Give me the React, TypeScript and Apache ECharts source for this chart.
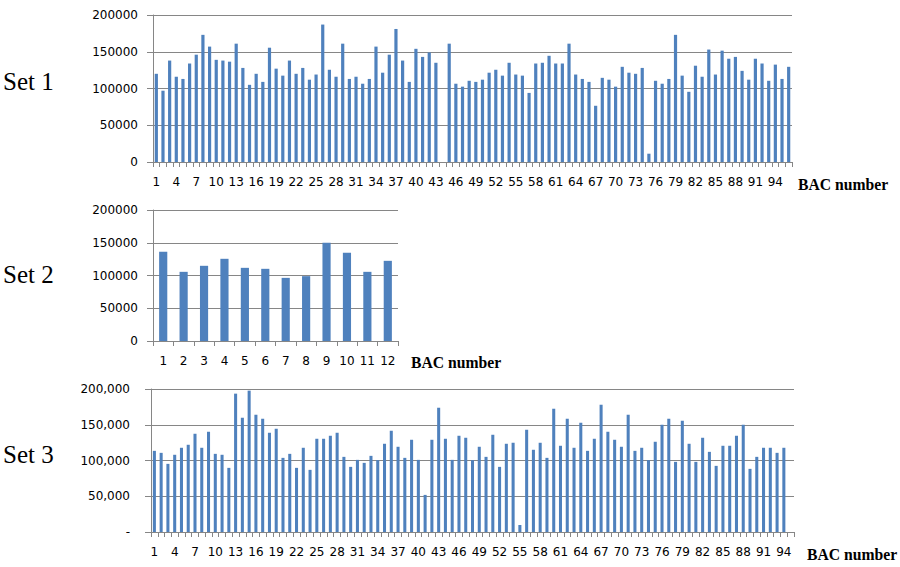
import React, { useEffect, useRef } from "react";
import * as echarts from "echarts";

const set1Values = [
  120000, 97000, 138000, 116000, 113000, 134000, 146000, 173000, 157000, 139000,
  138000, 136500, 161000, 128000, 105000, 120000, 109000, 155500, 127000, 117500,
  138000, 120000, 128000, 112000, 119000, 187000, 125500, 116000, 161000, 113000,
  116000, 106500, 113000, 157000, 121500, 146000, 181000, 138000, 109000, 154000,
  143000, 149000, 135000, 0, 161000, 106500, 102500, 110500, 109000, 112000,
  121500, 125500, 117500, 135000, 119000, 117500, 94000, 134000, 135000, 144500,
  134000, 134000, 161000, 119000, 113000, 109000, 76500, 114500, 112000, 102500,
  129500, 121500, 120000, 128000, 11300, 110500, 106500, 113000, 173000, 117500,
  95500, 131000, 116000, 153000, 119000, 151500, 140500, 143000, 124000, 112000,
  140500, 134000, 110500, 132500, 113000, 129500,
];

const set2Values = [136200, 105600, 114800, 125500, 111700, 110200, 96400, 99000, 150000, 134700, 105600, 122400];

const set3Values: (number | null)[] = [
  113500, 110700, 95300, 108000, 117800, 122000, 137400, 117800, 140200, 109300,
  108000, 89700, 193500, 159800, 197700, 164000, 158400, 138800, 144400, 103700,
  109300, 89700, 117800, 86900, 130400, 130400, 134600, 138800, 105100, 91100,
  100900, 96700, 106500, 100500, 123400, 141600, 119200, 103700, 129000, 100900,
  51900, 129000, 173800, 130400, 100900, 134600, 131800, 100500, 119200, 105100,
  136000, 91100, 123400, 124800, 9800, 143000, 115000, 124800, 103700, 172400,
  120600, 158400, 117800, 152800, 113500, 130400, 178000, 140200, 129000, 119200,
  164000, 113500, 117800, 100500, 126200, 150000, 158400, 98100, 155600, 123400,
  98100, 131800, 112100, 92500, 120600, 120600, 134600, 150000, 88300, 105100,
  117800, 117800, 110700, 117800, null,
];

const set1Categories = set1Values.map((_, i) => String(i + 1));
const set2Categories = set2Values.map((_, i) => String(i + 1));
const set3Categories = set3Values.map((_, i) => String(i + 1));

const setLabels = ["Set 1", "Set 2", "Set 3"];
const xAxisTitle = "BAC number";

const BAR = "#4F81BD";
const GRIDLINE = "#868686";
const LABEL_FONT = "DejaVu Sans";

export default function App() {
  const ref = useRef<HTMLDivElement>(null);

  useEffect(() => {
    if (!ref.current) return;
    const chart = echarts.init(ref.current, undefined, { renderer: "svg" });

    const xAxisBase = (gridIndex: number, data: string[], interval: number) => ({
      type: "category" as const,
      gridIndex,
      data,
      boundaryGap: true,
      axisLine: { show: true, lineStyle: { color: GRIDLINE, width: 1 } },
      axisTick: { show: true, interval: 0, length: 5, lineStyle: { color: GRIDLINE } },
      axisLabel: {
        interval,
        margin: 14,
        color: "#000",
        fontFamily: LABEL_FONT,
        fontSize: 12,
      },
    });

    const yAxisBase = (gridIndex: number, formatter: (v: number) => string, margin: number) => ({
      type: "value" as const,
      gridIndex,
      min: 0,
      max: 200000,
      interval: 50000,
      axisLine: { show: true, lineStyle: { color: GRIDLINE, width: 1 } },
      axisTick: { show: true, length: 6, lineStyle: { color: GRIDLINE } },
      splitLine: { show: true, lineStyle: { color: GRIDLINE, width: 1 } },
      axisLabel: {
        margin,
        color: "#000",
        fontFamily: LABEL_FONT,
        fontSize: 12,
        formatter,
      },
    });

    const plainFmt = (v: number) => String(v);
    const commaFmt = (v: number) => (v === 0 ? "-" : v.toLocaleString("en-US"));

    const setText = (text: string, y: number) => ({
      type: "text" as const,
      left: 3,
      top: y,
      style: { text, fontFamily: "Liberation Serif", fontSize: 25, fill: "#000" },
    });
    const titleText = (x: number, y: number) => ({
      type: "text" as const,
      left: x,
      top: y,
      style: { text: xAxisTitle, fontFamily: "Liberation Serif", fontSize: 15.7, fontWeight: "bold", fill: "#000" },
    });

    chart.setOption({
      animation: false,
      backgroundColor: "#fff",
      grid: [
        { left: 153, top: 15, width: 639, height: 147 },
        { left: 153, top: 210, width: 245, height: 131 },
        { left: 151, top: 389, width: 643, height: 143 },
      ],
      xAxis: [
        xAxisBase(0, set1Categories, 2),
        xAxisBase(1, set2Categories, 0),
        xAxisBase(2, set3Categories, 2),
      ],
      yAxis: [yAxisBase(0, plainFmt, 15), yAxisBase(1, plainFmt, 15), yAxisBase(2, commaFmt, 21)],
      series: [
        { type: "bar", xAxisIndex: 0, yAxisIndex: 0, data: set1Values, barWidth: "48%", itemStyle: { color: BAR } },
        { type: "bar", xAxisIndex: 1, yAxisIndex: 1, data: set2Values, barWidth: "40%", itemStyle: { color: BAR } },
        { type: "bar", xAxisIndex: 2, yAxisIndex: 2, data: set3Values, barWidth: "45%", itemStyle: { color: BAR } },
      ],
      graphic: [
        setText(setLabels[0], 69),
        setText(setLabels[1], 262),
        setText(setLabels[2], 442),
        titleText(798, 176),
        titleText(411, 354),
        titleText(807, 546),
      ],
    });

    return () => chart.dispose();
  }, []);

  return (
    <div
      ref={ref}
      style={{ position: "fixed", left: 0, top: 0, width: 900, height: 567, background: "#fff" }}
    />
  );
}
